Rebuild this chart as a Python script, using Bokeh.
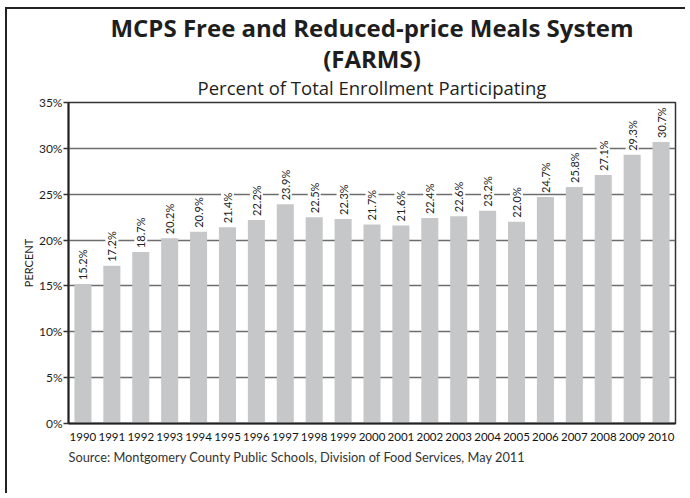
from bokeh.plotting import figure
from bokeh.models import ColumnDataSource, LabelSet, Title, PrintfTickFormatter, FixedTicker, Range1d
from bokeh.core.properties import value
from bokeh.embed import file_html
from bokeh.resources import INLINE
import math

years = [str(y) for y in range(1990, 2011)]
percent = [15.2, 17.2, 18.7, 20.2, 20.9, 21.4, 22.2, 23.9, 22.5, 22.3, 21.7,
           21.6, 22.4, 22.6, 23.2, 22.0, 24.7, 25.8, 27.1, 29.3, 30.7]
labels = ["%.1f%%" % v for v in percent]
y_ticks = [0, 5, 10, 15, 20, 25, 30, 35]

title_main = "MCPS Free and Reduced-price Meals System"
title_second = "(FARMS)"
subtitle = "Percent of Total Enrollment Participating"
source_text = "Source: Montgomery County Public Schools, Division of Food Services, May 2011"

FONT = "Lato"
TFONT = "Open Sans"
DARK = "#1e1e1e"

src = ColumnDataSource(dict(year=years, pct=percent, lab=labels))

p = figure(x_range=years, y_range=Range1d(0, 35), width=680, height=486,
           output_backend="svg", toolbar_location=None,
           min_border_left=61, min_border_right=12,
           min_border_top=92, min_border_bottom=72)

p.styles = {"border-left": "2px solid #222", "border-top": "2px solid #222",
            "margin-left": "5px", "margin-top": "7px"}

# titles (first added is closest to the plot)
p.title.text = ""
p.add_layout(Title(text=subtitle, text_font=TFONT, text_font_size="18.5px",
                   text_font_style="normal", text_color=DARK, align="center",
                   standoff=5), "above")
p.add_layout(Title(text=title_second, text_font=TFONT, text_font_size="24px",
                   text_font_style="bold", text_color=DARK, align="center",
                   standoff=-8), "above")
p.add_layout(Title(text=title_main, text_font=TFONT, text_font_size="24px",
                   text_font_style="bold", text_color=DARK, align="center",
                   standoff=-1), "above")

p.vbar(x="year", top="pct", width=0.59, source=src, color="#c6c7c8",
       line_color=None)

lbl = LabelSet(x="year", y="pct", text="lab", source=src, angle=math.pi / 2,
               text_align="left", text_baseline="middle", y_offset=4,
               text_font=value(FONT), text_font_size=value("11px"),
               text_color="#222222", background_fill_color="white")
p.add_layout(lbl)

# source line
p.add_layout(Title(text=source_text, text_font=FONT, text_font_size="12.8px",
                   text_font_style="normal", text_color="#333333", align="left",
                   standoff=6), "below")

p.x_range.range_padding = 0
p.xgrid.grid_line_color = None
p.ygrid.ticker = FixedTicker(ticks=y_ticks)
p.ygrid.grid_line_color = "#6d6d6d"
p.ygrid.grid_line_width = 1.5

p.yaxis.ticker = FixedTicker(ticks=y_ticks)
p.yaxis.formatter = PrintfTickFormatter(format="%d%%")
p.yaxis.axis_label = "PERCENT"
p.yaxis.axis_label_text_font = FONT
p.yaxis.axis_label_text_font_size = "11px"
p.yaxis.axis_label_text_font_style = "normal"
p.yaxis.axis_label_text_color = "#222222"
p.yaxis.axis_label_standoff = 1
p.yaxis.major_label_text_font = FONT
p.yaxis.major_label_text_font_size = "12px"
p.yaxis.major_label_text_color = DARK
p.yaxis.major_label_standoff = 1
p.yaxis.major_tick_out = 5
p.yaxis.major_tick_in = 0
p.yaxis.major_tick_line_color = "#333333"
p.yaxis.major_tick_line_width = 1.5
p.yaxis.minor_tick_line_color = None
p.yaxis.axis_line_color = "#222222"
p.yaxis.axis_line_width = 2

p.xaxis.major_tick_line_color = None
p.xaxis.minor_tick_line_color = None
p.xaxis.major_label_text_font = FONT
p.xaxis.major_label_text_font_size = "11.5px"
p.xaxis.major_label_text_font_style = "normal"
p.xaxis.major_label_text_color = "#111111"
p.xaxis.major_label_standoff = 3
p.xaxis.axis_line_color = "#222222"
p.xaxis.axis_line_width = 2

p.outline_line_color = "#333333"
p.outline_line_width = 1.5
p.background_fill_color = "white"
p.border_fill_color = "white"

open("out.html", "w").write(file_html(p, INLINE))
